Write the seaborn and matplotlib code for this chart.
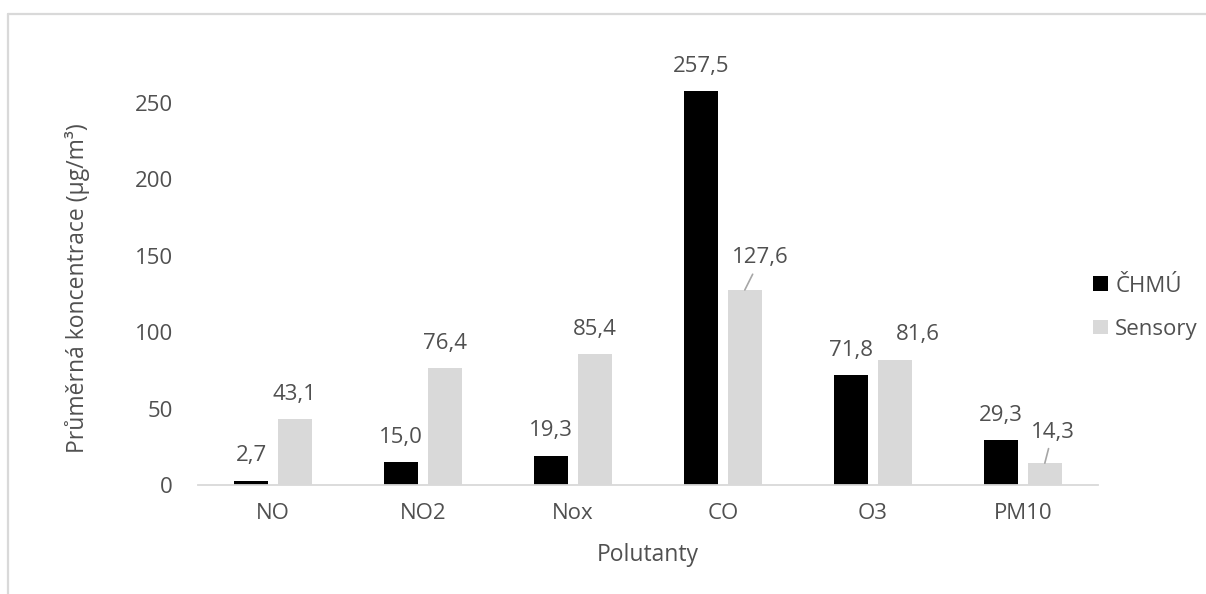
import matplotlib
matplotlib.use("Agg")
import matplotlib.pyplot as plt
from matplotlib.lines import Line2D
from matplotlib.patches import Patch
import seaborn as sns
import pandas as pd

# Average pollutant concentrations: ČHMÚ reference station vs. low-cost sensors
pollutants = ["NO", "NO2", "Nox", "CO", "O3", "PM10"]
chmu = [2.7, 15.0, 19.3, 257.5, 71.8, 29.3]
sensory = [43.1, 76.4, 85.4, 127.6, 81.6, 14.3]
series_names = ["ČHMÚ", "Sensory"]
y_ticks = [0, 50, 100, 150, 200, 250]

TEXT = "#505050"
GRID = "#D9D9D9"
colors = {"ČHMÚ": "#000000", "Sensory": "#D9D9D9"}

df = pd.DataFrame({
    "Polutant": pollutants * 2,
    "Zdroj": [series_names[0]] * len(pollutants) + [series_names[1]] * len(pollutants),
    "Hodnota": chmu + sensory,
})

sns.set_theme(style="white")
plt.rcParams["font.family"] = ["Open Sans", "DejaVu Sans"]

FS = 16
fig = plt.figure(figsize=(12.06, 5.94), dpi=100)
ax = fig.add_axes([0.1642, 0.1835, 0.7463, 0.7205])

sns.barplot(data=df, x="Polutant", y="Hodnota", hue="Zdroj", order=pollutants,
            hue_order=series_names, palette=colors, width=0.58, gap=0.22,
            saturation=1, linewidth=0, errorbar=None, legend=False, ax=ax)

ax.set_xlim(-0.5, len(pollutants) - 0.5)
ax.set_ylim(0, 280)
ax.set_yticks(y_ticks)
ax.set_yticklabels([str(t) for t in y_ticks])

for side in ("top", "right", "left"):
    ax.spines[side].set_visible(False)
ax.spines["bottom"].set_color(GRID)
ax.spines["bottom"].set_linewidth(1.3)
ax.tick_params(axis="both", length=0, labelsize=FS, labelcolor=TEXT)
ax.tick_params(axis="x", pad=13)
ax.tick_params(axis="y", pad=18)

ax.set_xlabel("Polutanty", fontsize=16.5, color=TEXT)
ax.xaxis.set_label_coords(0.5, -0.1636)
ax.xaxis.label.set_va("center")
ax.set_ylabel("Průměrná koncentrace (µg/m³)", fontsize=16.5, color=TEXT)
ax.yaxis.set_label_coords(-0.134, 0.461)
ax.yaxis.label.set_va("center")

# value labels; a few are nudged aside with a short leader line
nudges = {("Sensory", "CO"): (16, 32, True),
          ("Sensory", "PM10"): (8, 31, True),
          ("Sensory", "O3"): (23, 26, False)}
for name, container, values in zip(series_names, ax.containers, [chmu, sensory]):
    for bar, cat, val in zip(container, pollutants, values):
        x = bar.get_x() + bar.get_width() / 2
        dx, dy, leader = nudges.get((name, cat), (0, 25, False))
        kw = {}
        if leader:
            kw["arrowprops"] = dict(arrowstyle="-", color="#A6A6A6", lw=1.2,
                                    shrinkA=2, shrinkB=0)
        ax.annotate(f"{val:.1f}".replace(".", ","), xy=(x, val),
                    xytext=(dx * 0.72, dy * 0.72), textcoords="offset points",
                    ha="center", va="center", fontsize=FS, color=TEXT, **kw)

handles = [Patch(facecolor=colors[n], edgecolor="none", label=n) for n in series_names]
leg = fig.legend(handles=handles, loc="center left", bbox_to_anchor=(0.899, 0.482),
                 frameon=False, fontsize=FS, handlelength=0.65, handleheight=0.65,
                 handletextpad=0.35, labelspacing=1.0, borderaxespad=0)
for t in leg.get_texts():
    t.set_color(TEXT)

# chart area frame
fig.add_artist(Line2D([7.5 / 1206, 7.5 / 1206], [0, 1 - 13.5 / 594],
                      transform=fig.transFigure, color=GRID, lw=1.6))
fig.add_artist(Line2D([7.5 / 1206, 1], [1 - 13.5 / 594, 1 - 13.5 / 594],
                      transform=fig.transFigure, color=GRID, lw=1.6))

fig.savefig("out.png", dpi=100, facecolor="white")
